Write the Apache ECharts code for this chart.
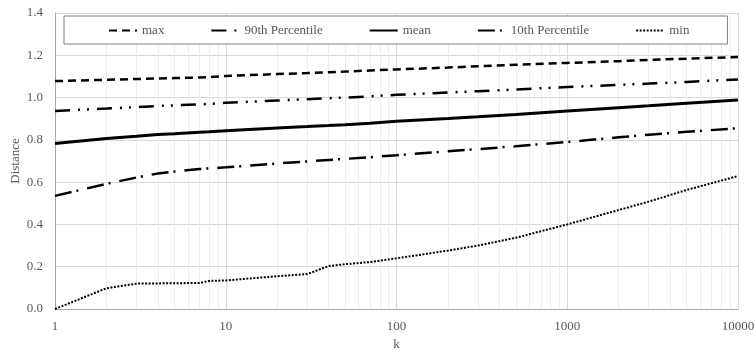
<!DOCTYPE html>
<html>
<head>
<meta charset="utf-8">
<script src="https://cdn.jsdelivr.net/npm/echarts@6/dist/echarts.min.js"></script>
<style>
html,body{margin:0;padding:0;background:#fff;}
#c{width:756px;height:352px;}
</style>
</head>
<body>
<div id="c"></div>
<script>
const kValues   = [1,2,3,4,5,7,8,10,20,30,40,50,70,100,200,300,500,1000,2000,3000,5000,10000];
const maxValues = [1.078,1.084,1.088,1.090,1.092,1.095,1.097,1.102,1.111,1.116,1.120,1.123,1.128,1.133,1.142,1.148,1.155,1.164,1.172,1.178,1.184,1.192];
const p90Values = [0.937,0.948,0.955,0.960,0.963,0.968,0.970,0.975,0.986,0.992,0.997,1.000,1.006,1.013,1.024,1.030,1.038,1.050,1.060,1.066,1.074,1.086];
const meanValues= [0.783,0.806,0.817,0.825,0.829,0.836,0.838,0.843,0.856,0.863,0.868,0.872,0.879,0.888,0.901,0.909,0.920,0.936,0.952,0.961,0.973,0.988];
const p10Values = [0.535,0.592,0.622,0.641,0.650,0.662,0.665,0.670,0.688,0.698,0.705,0.710,0.718,0.727,0.746,0.756,0.770,0.790,0.812,0.824,0.838,0.855];
const minValues = [0.000,0.098,0.120,0.121,0.122,0.123,0.133,0.135,0.155,0.165,0.203,0.212,0.222,0.240,0.276,0.300,0.337,0.400,0.468,0.508,0.563,0.629];
const minorTicks = [2,3,4,5,6,7,8,9,20,30,40,50,60,70,80,90,200,300,400,500,600,700,800,900,2000,3000,4000,5000,6000,7000,8000,9000];
const seriesNames = ['max','90th Percentile','mean','10th Percentile','min'];

const font = 'Liberation Serif';
const txt = '#595959';
function pairs(vals){ return kValues.map((k,i)=>[k, vals[i]]); }

const chart = echarts.init(document.getElementById('c'));
chart.setOption({
  animation:false,
  backgroundColor:'#fff',
  color:['#000','#000','#000','#000','#000','#000'],
  textStyle:{fontFamily:font},
  grid:{left:55,right:18,top:13,bottom:43,containLabel:false,outerBoundsMode:'none'},
  legend:{
    data:seriesNames,
    left:64, top:16, z:10,
    padding:[8,38,7,44],
    itemGap:46, itemWidth:28, itemHeight:14,
    itemStyle:{opacity:0},
    backgroundColor:'#fff', borderColor:'#7f7f7f', borderWidth:1,
    textStyle:{fontFamily:font,fontSize:13,color:txt}
  },
  xAxis:{
    type:'log', logBase:10, min:1, max:10000,
    name:'k', nameLocation:'middle', nameGap:28,
    nameTextStyle:{fontFamily:font,fontSize:13,color:txt},
    axisLine:{show:true,lineStyle:{color:'#a6a6a6',width:1}},
    axisTick:{show:false},
    axisLabel:{fontFamily:font,fontSize:13,color:txt,margin:11,formatter:v=>String(Math.round(v))},
    splitLine:{show:true,lineStyle:{color:'#d9d9d9',width:1}}
  },
  yAxis:{
    type:'value', min:0, max:1.4, interval:0.2,
    name:'Distance', nameLocation:'middle', nameGap:33, nameRotate:90, nameMoveOverlap:false,
    nameTextStyle:{fontFamily:font,fontSize:13,color:txt},
    axisLine:{show:true,lineStyle:{color:'#a6a6a6',width:1}},
    axisTick:{show:false},
    axisLabel:{fontFamily:font,fontSize:13,color:txt,margin:12,formatter:v=>v.toFixed(1)},
    splitLine:{show:true,lineStyle:{color:'#d9d9d9',width:1}}
  },
  series:[
    {
      type:'line', name:'_grid', data:[], z:1, silent:true, legendHoverLink:false,
      markLine:{
        silent:true, symbol:'none', animation:false, z:1,
        label:{show:false},
        lineStyle:{color:'#ededed',width:1,type:'solid'},
        emphasis:{disabled:true},
        data:minorTicks.map(v=>({xAxis:v}))
      }
    },
    {name:'max', type:'line', data:pairs(maxValues), symbol:'none', z:3, itemStyle:{color:'#000'},
     lineStyle:{color:'#000',width:2.5,type:[8,5]}},
    {name:'90th Percentile', type:'line', data:pairs(p90Values), symbol:'none', z:3, itemStyle:{color:'#000'},
     lineStyle:{color:'#000',width:2.5,type:[15,8,2,7,2,8]}},
    {name:'mean', type:'line', data:pairs(meanValues), symbol:'none', z:3, itemStyle:{color:'#000'},
     lineStyle:{color:'#000',width:3,type:'solid'}},
    {name:'10th Percentile', type:'line', data:pairs(p10Values), symbol:'none', z:3, itemStyle:{color:'#000'},
     lineStyle:{color:'#000',width:2.5,type:[17,5,2,9]}},
    {name:'min', type:'line', data:pairs(minValues), symbol:'none', z:3, itemStyle:{color:'#000'},
     lineStyle:{color:'#000',width:2,type:[2,1.5]}}
  ]
});
</script>
</body>
</html>
